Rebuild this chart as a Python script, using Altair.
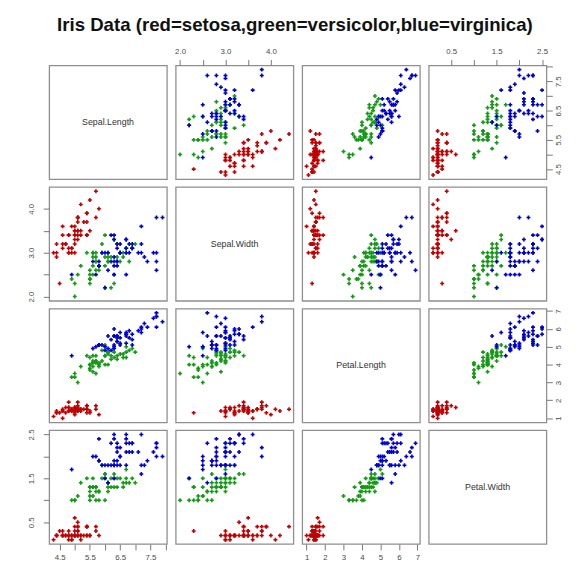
import altair as alt
import pandas as pd

# ---- iris data (setosa 1-50, versicolor 51-100, virginica 101-150) ----
species_names = ["setosa", "versicolor", "virginica"]
species_colors = ["#c00000", "#139913", "#0000cc"]
species = ["setosa"] * 50 + ["versicolor"] * 50 + ["virginica"] * 50

sepal_length = [
    5.1, 4.9, 4.7, 4.6, 5.0, 5.4, 4.6, 5.0, 4.4, 4.9, 5.4, 4.8, 4.8, 4.3, 5.8, 5.7, 5.4, 5.1, 5.7, 5.1,
    5.4, 5.1, 4.6, 5.1, 4.8, 5.0, 5.0, 5.2, 5.2, 4.7, 4.8, 5.4, 5.2, 5.5, 4.9, 5.0, 5.5, 4.9, 4.4, 5.1,
    5.0, 4.5, 4.4, 5.0, 5.1, 4.8, 5.1, 4.6, 5.3, 5.0,
    7.0, 6.4, 6.9, 5.5, 6.5, 5.7, 6.3, 4.9, 6.6, 5.2, 5.0, 5.9, 6.0, 6.1, 5.6, 6.7, 5.6, 5.8, 6.2, 5.6,
    5.9, 6.1, 6.3, 6.1, 6.4, 6.6, 6.8, 6.7, 6.0, 5.7, 5.5, 5.5, 5.8, 6.0, 5.4, 6.0, 6.7, 6.3, 5.6, 5.5,
    5.5, 6.1, 5.8, 5.0, 5.6, 5.7, 5.7, 6.2, 5.1, 5.7,
    6.3, 5.8, 7.1, 6.3, 6.5, 7.6, 4.9, 7.3, 6.7, 7.2, 6.5, 6.4, 6.8, 5.7, 5.8, 6.4, 6.5, 7.7, 7.7, 6.0,
    6.9, 5.6, 7.7, 6.3, 6.7, 7.2, 6.2, 6.1, 6.4, 7.2, 7.4, 7.9, 6.4, 6.3, 6.1, 7.7, 6.3, 6.4, 6.0, 6.9,
    6.7, 6.9, 5.8, 6.8, 6.7, 6.7, 6.3, 6.5, 6.2, 5.9,
]
sepal_width = [
    3.5, 3.0, 3.2, 3.1, 3.6, 3.9, 3.4, 3.4, 2.9, 3.1, 3.7, 3.4, 3.0, 3.0, 4.0, 4.4, 3.9, 3.5, 3.8, 3.8,
    3.4, 3.7, 3.6, 3.3, 3.4, 3.0, 3.4, 3.5, 3.4, 3.2, 3.1, 3.4, 4.1, 4.2, 3.1, 3.2, 3.5, 3.6, 3.0, 3.4,
    3.5, 2.3, 3.2, 3.5, 3.8, 3.0, 3.8, 3.2, 3.7, 3.3,
    3.2, 3.2, 3.1, 2.3, 2.8, 2.8, 3.3, 2.4, 2.9, 2.7, 2.0, 3.0, 2.2, 2.9, 2.9, 3.1, 3.0, 2.7, 2.2, 2.5,
    3.2, 2.8, 2.5, 2.8, 2.9, 3.0, 2.8, 3.0, 2.9, 2.6, 2.4, 2.4, 2.7, 2.7, 3.0, 3.4, 3.1, 2.3, 3.0, 2.5,
    2.6, 3.0, 2.6, 2.3, 2.7, 3.0, 2.9, 2.9, 2.5, 2.8,
    3.3, 2.7, 3.0, 2.9, 3.0, 3.0, 2.5, 2.9, 2.5, 3.6, 3.2, 2.7, 3.0, 2.5, 2.8, 3.2, 3.0, 3.8, 2.6, 2.2,
    3.2, 2.8, 2.8, 2.7, 3.3, 3.2, 2.8, 3.0, 2.8, 3.0, 2.8, 3.8, 2.8, 2.8, 2.6, 3.0, 3.4, 3.1, 3.0, 3.1,
    3.1, 3.1, 2.7, 3.2, 3.3, 3.0, 2.5, 3.0, 3.4, 3.0,
]
petal_length = [
    1.4, 1.4, 1.3, 1.5, 1.4, 1.7, 1.4, 1.5, 1.4, 1.5, 1.5, 1.6, 1.4, 1.1, 1.2, 1.5, 1.3, 1.4, 1.7, 1.5,
    1.7, 1.5, 1.0, 1.7, 1.9, 1.6, 1.6, 1.5, 1.4, 1.6, 1.6, 1.5, 1.5, 1.4, 1.5, 1.2, 1.3, 1.4, 1.3, 1.5,
    1.3, 1.3, 1.3, 1.6, 1.9, 1.4, 1.6, 1.4, 1.5, 1.4,
    4.7, 4.5, 4.9, 4.0, 4.6, 4.5, 4.7, 3.3, 4.6, 3.9, 3.5, 4.2, 4.0, 4.7, 3.6, 4.4, 4.5, 4.1, 4.5, 3.9,
    4.8, 4.0, 4.9, 4.7, 4.3, 4.4, 4.8, 5.0, 4.5, 3.5, 3.8, 3.7, 3.9, 5.1, 4.5, 4.5, 4.7, 4.4, 4.1, 4.0,
    4.4, 4.6, 4.0, 3.3, 4.2, 4.2, 4.2, 4.3, 3.0, 4.1,
    6.0, 5.1, 5.9, 5.6, 5.8, 6.6, 4.5, 6.3, 5.8, 6.1, 5.1, 5.3, 5.5, 5.0, 5.1, 5.3, 5.5, 6.7, 6.9, 5.0,
    5.7, 4.9, 6.7, 4.9, 5.7, 6.0, 4.8, 4.9, 5.6, 5.8, 6.1, 6.4, 5.6, 5.1, 5.6, 6.1, 5.6, 5.5, 4.8, 5.4,
    5.6, 5.1, 5.1, 5.9, 5.7, 5.2, 5.0, 5.2, 5.4, 5.1,
]
petal_width = [
    0.2, 0.2, 0.2, 0.2, 0.2, 0.4, 0.3, 0.2, 0.2, 0.1, 0.2, 0.2, 0.1, 0.1, 0.2, 0.4, 0.4, 0.3, 0.3, 0.3,
    0.2, 0.4, 0.2, 0.5, 0.2, 0.2, 0.4, 0.2, 0.2, 0.2, 0.2, 0.4, 0.1, 0.2, 0.2, 0.2, 0.2, 0.1, 0.2, 0.2,
    0.3, 0.3, 0.2, 0.6, 0.4, 0.3, 0.2, 0.2, 0.2, 0.2,
    1.4, 1.5, 1.5, 1.3, 1.5, 1.3, 1.6, 1.0, 1.3, 1.4, 1.0, 1.5, 1.0, 1.4, 1.3, 1.4, 1.5, 1.0, 1.5, 1.1,
    1.8, 1.3, 1.5, 1.2, 1.3, 1.4, 1.4, 1.7, 1.5, 1.0, 1.1, 1.0, 1.2, 1.6, 1.5, 1.6, 1.5, 1.3, 1.3, 1.3,
    1.2, 1.4, 1.2, 1.0, 1.3, 1.2, 1.3, 1.3, 1.1, 1.3,
    2.5, 1.9, 2.1, 1.8, 2.2, 2.1, 1.7, 1.8, 1.8, 2.5, 2.0, 1.9, 2.1, 2.0, 2.4, 2.3, 1.8, 2.2, 2.3, 1.5,
    2.3, 2.0, 2.0, 1.8, 2.1, 1.8, 1.8, 1.8, 2.1, 1.6, 1.9, 2.0, 2.2, 1.5, 1.4, 2.3, 2.4, 1.8, 1.8, 2.1,
    2.4, 2.3, 1.9, 2.3, 2.5, 2.3, 1.9, 2.0, 2.3, 1.8,
]

var_keys = ["SL", "SW", "PL", "PW"]
var_labels = ["Sepal.Length", "Sepal.Width", "Petal.Length", "Petal.Width"]

# axis ticks and labelled ticks, as in the reference
tick_values = {
    "SL": [4.5, 5.0, 5.5, 6.0, 6.5, 7.0, 7.5, 8.0],
    "SW": [2.0, 2.5, 3.0, 3.5, 4.0],
    "PL": [1, 2, 3, 4, 5, 6, 7],
    "PW": [0.5, 1.0, 1.5, 2.0, 2.5],
}
label_values = {
    "SL": [4.5, 5.5, 6.5, 7.5],
    "SW": [2.0, 3.0, 4.0],
    "PL": [1, 2, 3, 4, 5, 6, 7],
    "PW": [0.5, 1.5, 2.5],
}
label_format = {"SL": ".1f", "SW": ".1f", "PL": "d", "PW": ".1f"}

df = pd.DataFrame({
    "SL": sepal_length, "SW": sepal_width, "PL": petal_length, "PW": petal_width,
    "species": species,
})

# R-style 4% range extension
domains = {}
for k in var_keys:
    lo, hi = float(df[k].min()), float(df[k].max())
    pad = (hi - lo) * 0.04
    domains[k] = [lo - pad, hi + pad]

W, H = 120, 116
GRAY_TXT = "#4a4a4a"
FONT = "Liberation Sans"


def make_axis(k, orient):
    vals = ", ".join(repr(float(v)) for v in label_values[k])
    expr = f"indexof([{vals}], datum.value) >= 0 ? format(datum.value, '{label_format[k]}') : ''"
    common = dict(
        orient=orient, values=tick_values[k], labelExpr=expr, grid=False, domain=False,
        title=None, tickSize=6, tickColor="#777777", tickWidth=1,
        labelFontSize=8, labelColor=GRAY_TXT, labelFont=FONT, labelOverlap=False,
        labelFlush=False,
    )
    if orient in ("left", "right"):
        common.update(labelAngle=-90, labelAlign="center",
                      labelBaseline="bottom" if orient == "left" else "top",
                      labelPadding=8 if orient == "left" else 2)
    else:
        common.update(labelAngle=0, labelAlign="center", labelPadding=4)
    return alt.Axis(**common)


def panel(r, c):
    if r == c:
        return alt.Chart(pd.DataFrame({"t": [var_labels[r]]})).mark_text(
            fontSize=9, color="#333333", font=FONT
        ).encode(
            text="t:N", x=alt.value(W / 2), y=alt.value(H / 2)
        ).properties(width=W, height=H)
    xk, yk = var_keys[c], var_keys[r]
    xaxis = None
    if r == 3 and c % 2 == 0:
        xaxis = make_axis(xk, "bottom")
    elif r == 0 and c % 2 == 1:
        xaxis = make_axis(xk, "top")
    yaxis = None
    if c == 0 and r % 2 == 1:
        yaxis = make_axis(yk, "left")
    elif c == 3 and r % 2 == 0:
        yaxis = make_axis(yk, "right")
    return alt.Chart(df).mark_point(shape="cross", filled=True, size=16, opacity=1).encode(
        x=alt.X(f"{xk}:Q", scale=alt.Scale(domain=domains[xk], nice=False, zero=False), axis=xaxis),
        y=alt.Y(f"{yk}:Q", scale=alt.Scale(domain=domains[yk], nice=False, zero=False), axis=yaxis),
        color=alt.Color("species:N", scale=alt.Scale(domain=species_names, range=species_colors), legend=None),
    ).properties(width=W, height=H)


panels = [panel(r, c) for r in range(4) for c in range(4)]

chart = alt.concat(*panels, columns=4, spacing=alt.RowColnumber(row=8, column=9), bounds="flush").properties(
    title=alt.TitleParams(
        "Iris Data (red=setosa,green=versicolor,blue=virginica)",
        fontSize=19, fontWeight="bold", font=FONT, color="#111111",
        anchor="middle", offset=12,
    ),
    padding={"left": 19, "top": 3, "right": 5, "bottom": 5},
).configure_view(
    stroke="#8f8f8f", strokeWidth=1.3
)

chart.save("out.html", embed_options={"renderer": "svg", "actions": False})
